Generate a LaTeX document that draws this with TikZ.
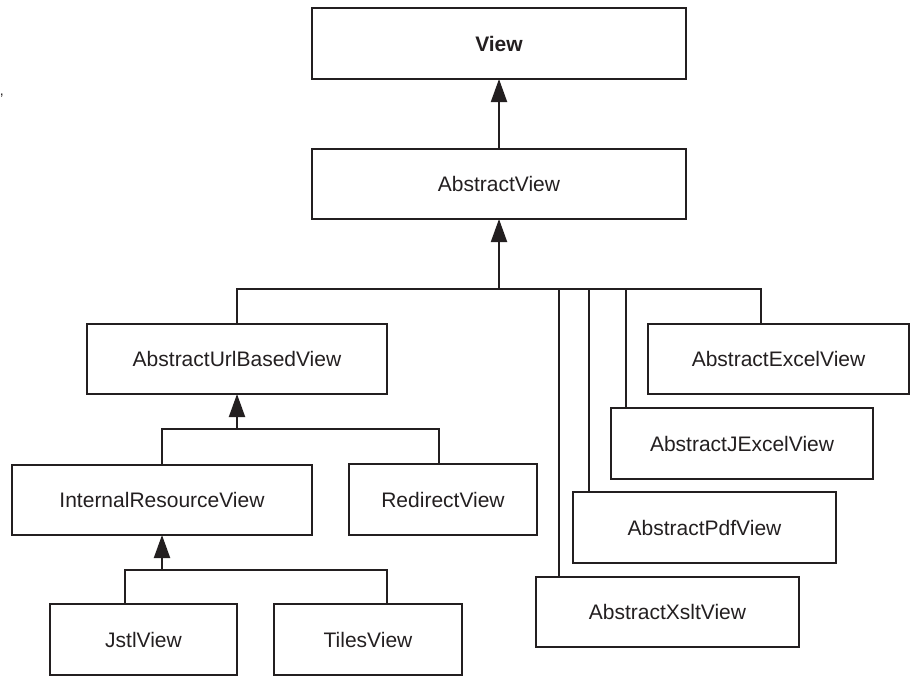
\documentclass[tikz,border=0pt]{standalone}
\usepackage{fontspec}
\setmainfont{Liberation Sans}
\usetikzlibrary{arrows.meta}
\definecolor{ink}{HTML}{231F20}
\tikzset{
  cls/.style={draw=ink, line width=2pt, rectangle, inner sep=0pt, outer sep=0pt,
    font=\fontsize{21}{25}\selectfont, text=ink},
  conn/.style={draw=ink, line width=2pt},
  inh/.style={conn, -{Triangle[length=23pt,width=16pt]}},
}
\begin{document}
\begin{tikzpicture}[x=1pt,y=-1pt]
\useasboundingbox (0,0) rectangle (910,678);
% classes
\node[cls, minimum width=374pt, minimum height=71pt] (view) at (499,43.5) {\bfseries View};
\node[cls, minimum width=374pt, minimum height=70pt] (av) at (499,184) {AbstractView};
\node[cls, minimum width=300pt, minimum height=70pt] (aubv) at (237,359) {AbstractUrlBasedView};
\node[cls, minimum width=300pt, minimum height=70pt] (irv) at (162,500) {InternalResourceView};
\node[cls, minimum width=188pt, minimum height=71pt] (rv) at (443,499.5) {RedirectView};
\node[cls, minimum width=187pt, minimum height=71pt] (jstl) at (143.5,639.5) {JstlView};
\node[cls, minimum width=188pt, minimum height=71pt] (tiles) at (368,639.5) {TilesView};
\node[cls, minimum width=261pt, minimum height=70pt] (excel) at (778.5,359) {AbstractExcelView};
\node[cls, minimum width=262pt, minimum height=71pt] (jexcel) at (742,443.5) {AbstractJExcelView};
\node[cls, minimum width=263pt, minimum height=71pt] (pdf) at (704.5,527.5) {AbstractPdfView};
\node[cls, minimum width=263pt, minimum height=70pt] (xslt) at (667.5,612) {AbstractXsltView};
\node[font=\fontsize{14}{14}\selectfont, text=ink, anchor=east, inner sep=0pt] (mark) at (4,96) {,};
% junction points
\coordinate (bus) at (499,289);
\coordinate (sub1) at (237,429);
\coordinate (sub2) at (162,569.5);
% View <- AbstractView
\draw[inh] (av.north) -- (view.south);
% AbstractView <- children
\draw[inh] (bus) -- (av.south);
\draw[conn] (aubv.north) |- (bus);
\draw[conn] (xslt.north west) ++(23,0) |- (bus);
\draw[conn] (pdf.north west) ++(16,0) |- (bus);
\draw[conn] (jexcel.north west) ++(15,0) |- (bus);
\draw[conn] (excel.north west) ++(113,0) |- (bus);
% AbstractUrlBasedView <- children
\draw[inh] (sub1) -- (aubv.south);
\draw[conn] (irv.north) |- (sub1);
\draw[conn] (rv.north west) ++(90,0) |- (sub1);
% InternalResourceView <- children
\draw[inh] (sub2) -- (irv.south);
\draw[conn] (jstl.north west) ++(75,0) |- (sub2);
\draw[conn] (tiles.north west) ++(113,0) |- (sub2);
\end{tikzpicture}
\end{document}
